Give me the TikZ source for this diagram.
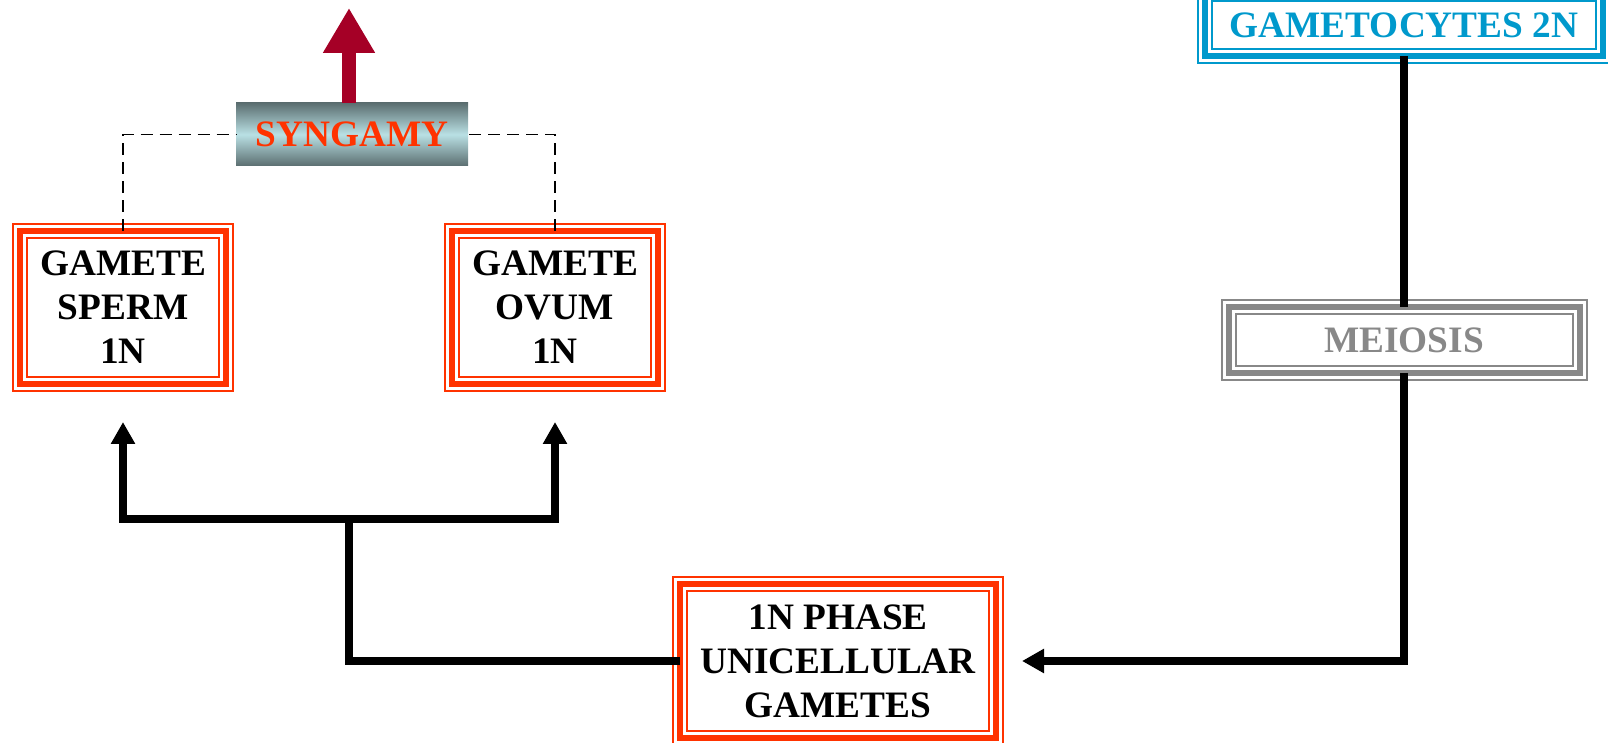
\documentclass[tikz,border=0pt]{standalone}
\usepackage{fontspec}
\setmainfont{Liberation Serif}
\usepackage{tikz}
\usetikzlibrary{positioning}
\usetikzlibrary{calc}
\usetikzlibrary{arrows.meta}
\definecolor{cellred}{HTML}{FF3300}
\definecolor{cellblue}{HTML}{0099CC}
\definecolor{cellgray}{HTML}{888888}
\definecolor{crimson}{HTML}{A50026}
\definecolor{slate}{HTML}{5B6E70}
\definecolor{pale}{HTML}{B9E0E4}
\tikzset{
  box/.style            = { rectangle, align=center, inner sep=0pt, outer sep=0pt,
                            font=\fontsize{37.3pt}{44pt}\selectfont\bfseries },
  triple/.style         = { draw=#1, line width=2pt, double=white, double distance=12pt,
                            postaction={draw=#1, line width=6pt} },
}
\tikzset{
  gamete/.style         = { box, triple=cellred, minimum width=206pt, minimum height=153pt },
  flow/.style           = { line width=7.5pt, draw=black },
  feed/.style           = { flow, -{Triangle[width=23pt,length=22pt]}, shorten >=38pt },
  link/.style           = { line width=1.6pt, dash pattern=on 12pt off 7pt },
  lift/.style           = { draw=crimson, line width=14pt, -{Triangle[width=49pt,length=45pt]} }
}
\begin{document}
\begin{tikzpicture}[x=1pt, y=1pt]
  \useasboundingbox (0,0) rectangle (1608,743);
  \clip (0,0) rectangle (1608,743);
  \node (sperm)   [gamete] at (123,435.5)        {GAMETE\\SPERM\\1N};
  \node (ovum)    [gamete,right=226pt of sperm]  {GAMETE\\OVUM\\1N};
  \node (syngamy) [box,text=cellred,minimum width=232pt,minimum height=63pt,
                   top color=slate,bottom color=slate,middle color=pale] at (352,608.5) {SYNGAMY};
  \node (phase)   [box,triple=cellred,minimum width=316pt,minimum height=154pt] at (838,82)
                  {1N PHASE\\UNICELLULAR\\GAMETES};
  \node (gametocytes) [box,triple=cellblue,text=cellblue,minimum width=398pt,minimum height=62pt]
                  at (1404,718) {GAMETOCYTES 2N};
  \node (meiosis) [box,triple=cellgray,text=cellgray,minimum width=351pt,minimum height=66pt]
                  at (1404,403) {MEIOSIS};
  \coordinate (fork) at (349,224);
  \coordinate (sky)  at (349,735);

  \draw [link] (sperm.north) |- (syngamy.west);
  \draw [link] (ovum.north)  |- (syngamy.east);
  \draw [lift] (syngamy.north -| sky) -- (sky);
  \draw [flow] (gametocytes) -- (meiosis);
  \draw [feed,shorten >=26pt] (meiosis) |- (phase);
  \draw [flow] (phase.west) -| (fork);
  \draw [feed] (fork) -| (sperm);
  \draw [feed] (fork) -| (ovum);
\end{tikzpicture}
\end{document}
